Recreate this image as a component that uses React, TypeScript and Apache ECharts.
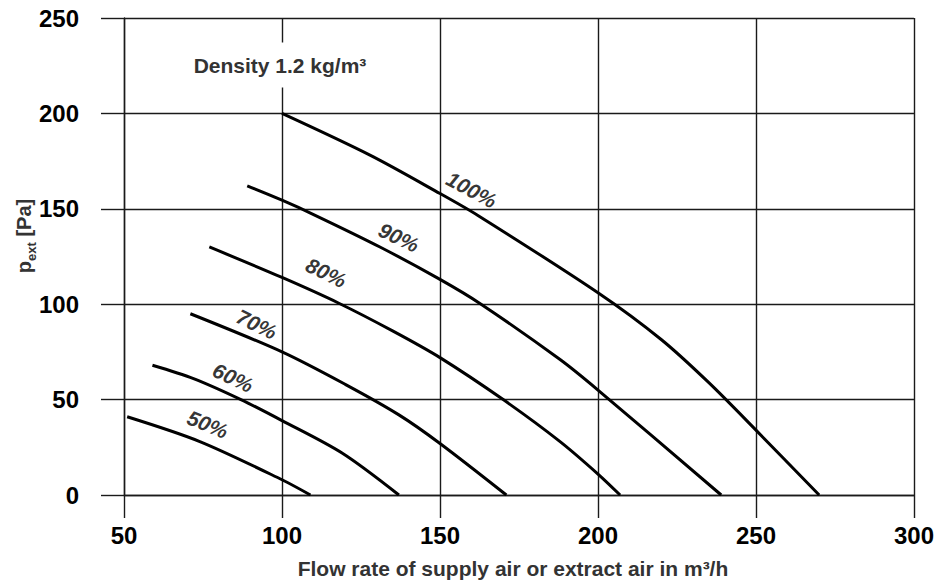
import React, { useEffect, useRef } from "react";
import * as echarts from "echarts";

const xTicks = [50, 100, 150, 200, 250, 300];
const yTicks = [0, 50, 100, 150, 200, 250];

const curveNames = ["100%", "90%", "80%", "70%", "60%", "50%"];
const flow100 = [100, 128, 150, 162, 200, 220, 235, 250, 270];
const pres100 = [200, 178, 158, 146.5, 106, 81.5, 59, 34, 0];
const flow90 = [89, 100, 110, 131, 150, 163, 188, 200, 239];
const pres90 = [162, 154.5, 147, 130, 113, 100, 71, 55, 0];
const flow80 = [77, 100, 118, 135, 150, 170, 188, 200, 207];
const pres80 = [130, 114, 100.5, 86, 72, 50, 28, 11, 0];
const flow70 = [71, 100, 120, 137, 150, 171];
const pres70 = [95, 75, 58, 42, 27, 0];
const flow60 = [59, 72, 87, 100, 119, 137];
const pres60 = [68, 61, 50, 39, 22, 0];
const flow50 = [51, 74, 100, 109];
const pres50 = [41, 28, 8, 0];

const curveFlows = [flow100, flow90, flow80, flow70, flow60, flow50];
const curvePres = [pres100, pres90, pres80, pres70, pres60, pres50];

// label anchors (data coordinates) and angles along the curves
const labelFlow = [160, 137, 114, 92, 84.5, 76.5];
const labelPres = [160, 135, 116.5, 89.5, 61.5, 37];
const labelAngle = [-28, -25, -26, -26, -25, -22];

const FONT = "'Liberation Sans', Arial, Helvetica, sans-serif";
const LINE = "#1a1a1a";

export default function App() {
  const ref = useRef<HTMLDivElement>(null);
  useEffect(() => {
    document.body.style.margin = "0";
    if (!ref.current) return;
    const chart = echarts.init(ref.current, undefined, { renderer: "svg" });
    const lineSeries = curveNames.map((name, i) => ({
      type: "line",
      name,
      data: curveFlows[i].map((x, j) => [x, curvePres[i][j]]),
      smooth: 0.3,
      symbol: "none",
      lineStyle: { color: "#000", width: 3 },
      silent: true,
      z: 3,
    }));
    const labelSeries = {
      type: "scatter",
      symbolSize: 0,
      silent: true,
      z: 4,
      data: curveNames.map((name, i) => ({
        value: [labelFlow[i], labelPres[i]],
        label: {
          show: true,
          position: "inside",
          formatter: name,
          rotate: labelAngle[i],
          color: "#000",
          fontSize: 21,
          fontWeight: "bold",
          fontStyle: "italic",
          fontFamily: FONT,
        },
      })),
    };
    chart.setOption({
      animation: false,
      grid: { left: 124, right: 20, top: 18, bottom: 93, containLabel: false },
      xAxis: {
        type: "value",
        min: xTicks[0],
        max: xTicks[xTicks.length - 1],
        interval: xTicks[1] - xTicks[0],
        name: "Flow rate of supply air or extract air in m³/h",
        nameLocation: "middle",
        nameGap: 63,
        nameTextStyle: { fontSize: 21, fontWeight: "bold", color: "#333", fontFamily: FONT, padding: [0, 12, 0, 0] },
        axisLine: { show: true, lineStyle: { color: LINE, width: 1.4 } },
        axisTick: { show: true, length: 23, inside: false, lineStyle: { color: LINE, width: 1.4 } },
        splitLine: { show: true, lineStyle: { color: LINE, width: 1.4 } },
        axisLabel: { fontSize: 24, fontWeight: "bold", color: "#000", margin: 28, fontFamily: FONT },
      },
      yAxis: {
        type: "value",
        min: yTicks[0],
        max: yTicks[yTicks.length - 1],
        interval: yTicks[1] - yTicks[0],
        axisLine: { show: true, lineStyle: { color: LINE, width: 1.4 } },
        axisTick: { show: true, length: 23, inside: false, lineStyle: { color: LINE, width: 1.4 } },
        splitLine: { show: true, lineStyle: { color: LINE, width: 1.4 } },
        axisLabel: { fontSize: 24, fontWeight: "bold", color: "#000", margin: 45, fontFamily: FONT },
      },
      graphic: [
        {
          type: "text",
          x: 280,
          y: 65,
          z: 100,
          style: {
            text: "Density 1.2 kg/m³",
            fontSize: 21,
            fontWeight: "bold",
            fill: "#333",
            fontFamily: FONT,
            align: "center",
            verticalAlign: "middle",
            backgroundColor: "#fff",
            padding: [12, 6],
          },
        },
        {
          type: "text",
          x: 22,
          y: 236,
          rotation: Math.PI / 2,
          z: 100,
          style: {
            text: "{a|p}{b|ext}{a| [Pa]}",
            align: "center",
            verticalAlign: "middle",
            fill: "#333",
            rich: {
              a: { fontSize: 20, fontWeight: "bold", fill: "#333", fontFamily: FONT, lineHeight: 24, verticalAlign: "bottom" },
              b: { fontSize: 13, fontWeight: "bold", fill: "#333", fontFamily: FONT, lineHeight: 24, verticalAlign: "bottom", padding: [0, 0, -4, 0] },
            },
          },
        },
      ],
      series: [...lineSeries, labelSeries],
    });
    return () => chart.dispose();
  }, []);
  return <div ref={ref} style={{ width: 937, height: 588 }} />;
}
